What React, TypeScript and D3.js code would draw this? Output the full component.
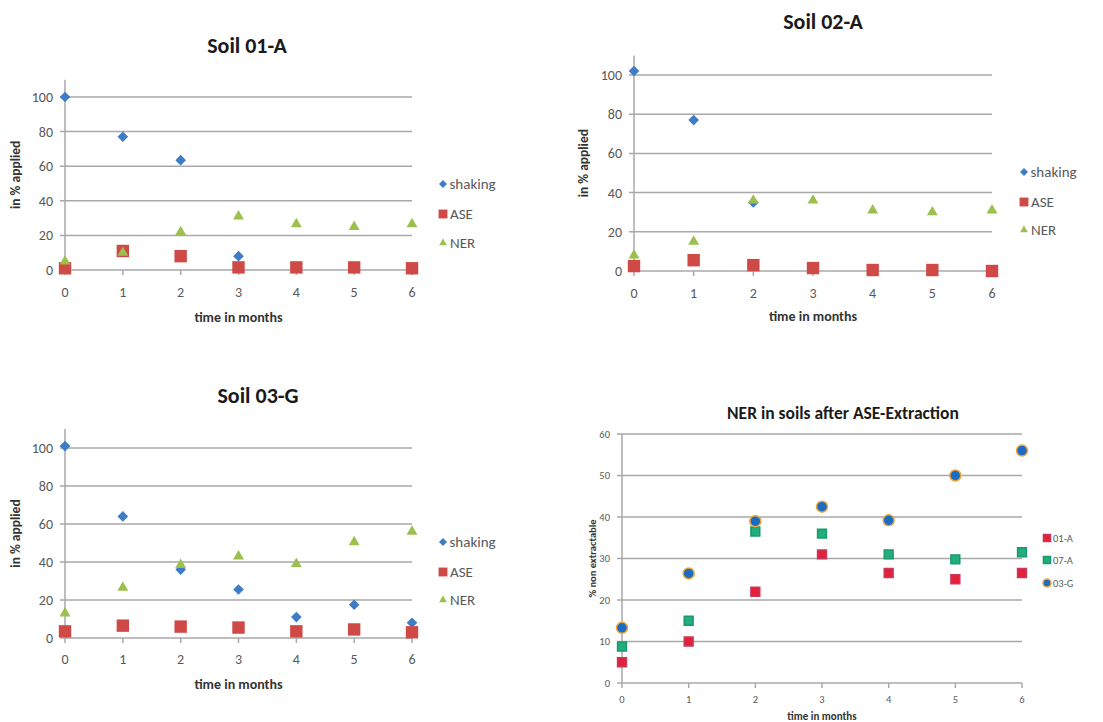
import React, { useEffect, useRef } from 'react';
import * as d3 from 'd3';

const months = [0, 1, 2, 3, 4, 5, 6];

// Soil 01-A
const shaking01A = [100, 77, 63.5, 8, null, null, null];
const ase01A = [1, 11, 8, 1.5, 1.5, 1.5, 1];
const ner01A = [5, 10, 22, 31, 26.5, 25, 26.5];

// Soil 02-A
const shaking02A = [102, 77, 35, 1.5, null, null, null];
const ase02A = [2.5, 5.5, 3, 1.5, 0.5, 0.5, 0];
const ner02A = [8, 15, 36, 36, 31, 30, 31];

// Soil 03-G
const shaking03G = [101, 64, 36, 25.5, 11, 17.5, 8];
const ase03G = [3.5, 6.5, 6, 5.5, 3.5, 4.5, 3];
const ner03G = [13, 26.5, 38.5, 43, 39, 50.5, 56];

// NER after ASE-Extraction
const nerAse01A = [5, 10, 22, 31, 26.5, 25, 26.5];
const nerAse07A = [8.8, 15, 36.5, 36, 31, 29.8, 31.5];
const nerAse03G = [13.3, 26.4, 39, 42.5, 39.2, 50, 56];

const soilTicks = [0, 20, 40, 60, 80, 100];
const nerTicks = [0, 10, 20, 30, 40, 50, 60];

const BLUE = '#3f7cc6';
const RED = '#cf4a47';
const GREEN = '#9bc04e';

type Series = { name: string; values: (number | null)[]; shape: string; fill: string; stroke?: string; size: number; legendSize: number };

type PanelCfg = {
  title: string;
  titleSize: number;
  titleX: number;
  titleY: number;
  x0: number; x1: number; y0: number; y1: number;
  yMax: number; yTop: number;
  ticks: number[];
  tickSize: number; xLabelGap: number;
  yTitle: string; yTitleX: number; yTitleSize: number;
  xTitleY: number; xTitleSize: number;
  legendX: number; legendY: number[]; legendSize: number;
  series: Series[];
};

const soilSeries = (s: (number | null)[], a: (number | null)[], n: (number | null)[]): Series[] => [
  { name: 'shaking', values: s, shape: 'diamond', fill: BLUE, size: 12, legendSize: 9 },
  { name: 'ASE', values: a, shape: 'square', fill: RED, size: 14, legendSize: 10 },
  { name: 'NER', values: n, shape: 'triangle', fill: GREEN, size: 14, legendSize: 10 },
];

const panels: PanelCfg[] = [
  {
    title: 'Soil 01-A', titleSize: 22, titleX: 247, titleY: 53,
    x0: 65, x1: 412, y0: 270, y1: 97, yMax: 100, yTop: 110, ticks: soilTicks, tickSize: 14, xLabelGap: 27,
    yTitle: 'in % applied', yTitleX: 20, yTitleSize: 13.5, xTitleY: 322, xTitleSize: 14,
    legendX: 443, legendY: [184, 214, 243], legendSize: 15,
    series: soilSeries(shaking01A, ase01A, ner01A),
  },
  {
    title: 'Soil 02-A', titleSize: 22, titleX: 823, titleY: 29,
    x0: 634, x1: 992, y0: 271, y1: 75, yMax: 100, yTop: 110, ticks: soilTicks, tickSize: 14, xLabelGap: 27,
    yTitle: 'in % applied', yTitleX: 588, yTitleSize: 13.5, xTitleY: 321, xTitleSize: 14,
    legendX: 1024, legendY: [172, 202, 230], legendSize: 15,
    series: soilSeries(shaking02A, ase02A, ner02A),
  },
  {
    title: 'Soil 03-G', titleSize: 22, titleX: 258, titleY: 403,
    x0: 65, x1: 412, y0: 638, y1: 448, yMax: 100, yTop: 110, ticks: soilTicks, tickSize: 14, xLabelGap: 26,
    yTitle: 'in % applied', yTitleX: 20, yTitleSize: 13.5, xTitleY: 689, xTitleSize: 14,
    legendX: 443, legendY: [542, 572, 600], legendSize: 15,
    series: soilSeries(shaking03G, ase03G, ner03G),
  },
  {
    title: 'NER in soils after ASE-Extraction', titleSize: 17.5, titleX: 843, titleY: 419,
    x0: 622, x1: 1022, y0: 683, y1: 434, yMax: 60, yTop: 60, ticks: nerTicks, tickSize: 10.5, xLabelGap: 20,
    yTitle: '% non extractable', yTitleX: 596, yTitleSize: 10.5, xTitleY: 720, xTitleSize: 11,
    legendX: 1047, legendY: [538, 560, 583], legendSize: 10.5,
    series: [
      { name: '01-A', values: nerAse01A, shape: 'square', fill: '#e3213b', stroke: '#c8385a', size: 10, legendSize: 8 },
      { name: '07-A', values: nerAse07A, shape: 'square', fill: '#1fae7c', stroke: '#1a9a6c', size: 10, legendSize: 8 },
      { name: '03-G', values: nerAse03G, shape: 'circle', fill: '#1c6cc4', stroke: '#f0a43c', size: 11, legendSize: 8 },
    ],
  },
];

const symbolOf = (shape: string) =>
  shape === 'diamond' ? d3.symbolDiamond2 :
  shape === 'square' ? d3.symbolSquare2 :
  shape === 'triangle' ? d3.symbolTriangle2 : d3.symbolCircle;

function drawMarker(g: d3.Selection<SVGGElement, unknown, null, undefined>, s: Series, x: number, y: number, sz: number) {
  const area = s.shape === 'circle' ? (Math.PI * sz * sz) / 4
    : s.shape === 'triangle' ? sz * sz * 0.433
    : s.shape === 'diamond' ? sz * sz * 0.5
    : sz * sz;
  g.append('path')
    .attr('d', d3.symbol(symbolOf(s.shape), area)())
    .attr('transform', `translate(${x},${y})`)
    .attr('fill', s.fill)
    .attr('stroke', s.stroke ?? 'none')
    .attr('stroke-width', s.stroke ? 1.5 : 0);
}

export default function App() {
  const ref = useRef<SVGSVGElement | null>(null);

  useEffect(() => {
    const svg = d3.select(ref.current);
    svg.selectAll('*').remove();
    const font = "Carlito, 'Open Sans', 'Liberation Sans', sans-serif";

    panels.forEach((p) => {
      const g = svg.append('g');
      const x = d3.scaleLinear().domain([0, 6]).range([p.x0, p.x1]);
      const y = d3.scaleLinear().domain([0, p.yMax]).range([p.y0, p.y1]);

      // gridlines
      g.selectAll('line.grid')
        .data(p.ticks)
        .enter().append('line')
        .attr('x1', p.x0 - 5).attr('x2', p.x1)
        .attr('y1', (d) => y(d)).attr('y2', (d) => y(d))
        .attr('stroke', '#a8a8a8').attr('stroke-width', 1.5);

      // y axis line
      g.append('line')
        .attr('x1', p.x0).attr('x2', p.x0)
        .attr('y1', y(p.yTop)).attr('y2', p.y0)
        .attr('stroke', '#a8a8a8').attr('stroke-width', 1.5);

      // x ticks
      g.selectAll('line.xt')
        .data(months)
        .enter().append('line')
        .attr('x1', (d) => x(d)).attr('x2', (d) => x(d))
        .attr('y1', p.y0).attr('y2', p.y0 + 5)
        .attr('stroke', '#a8a8a8').attr('stroke-width', 1.5);

      // y tick labels
      g.selectAll('text.yl')
        .data(p.ticks)
        .enter().append('text')
        .attr('x', p.x0 - 12).attr('y', (d) => y(d))
        .attr('dy', '0.35em')
        .attr('text-anchor', 'end')
        .attr('font-family', font).attr('font-size', p.tickSize)
        .attr('fill', '#595959')
        .text((d) => d);

      // x tick labels
      g.selectAll('text.xl')
        .data(months)
        .enter().append('text')
        .attr('x', (d) => x(d)).attr('y', p.y0 + p.xLabelGap)
        .attr('text-anchor', 'middle')
        .attr('font-family', font).attr('font-size', p.tickSize)
        .attr('fill', '#595959')
        .text((d) => d);

      // titles
      g.append('text')
        .attr('x', p.titleX).attr('y', p.titleY)
        .attr('text-anchor', 'middle')
        .attr('font-family', font).attr('font-weight', 'bold').attr('font-size', p.titleSize)
        .attr('fill', '#1a1a1a')
        .text(p.title);

      g.append('text')
        .attr('x', (p.x0 + p.x1) / 2).attr('y', p.xTitleY)
        .attr('text-anchor', 'middle')
        .attr('font-family', font).attr('font-weight', 'bold').attr('font-size', p.xTitleSize)
        .attr('fill', '#333')
        .text('time in months');

      g.append('text')
        .attr('transform', `translate(${p.yTitleX},${(y(p.yTop) + p.y0) / 2}) rotate(-90)`)
        .attr('text-anchor', 'middle')
        .attr('font-family', font).attr('font-weight', 'bold').attr('font-size', p.yTitleSize)
        .attr('fill', '#333')
        .text(p.yTitle);

      // points
      p.series.forEach((s) => {
        s.values.forEach((v, i) => {
          if (v === null) return;
          drawMarker(g, s, x(months[i]), y(v), s.size);
        });
      });

      // legend
      p.series.forEach((s, i) => {
        const ly = p.legendY[i];
        drawMarker(g, s, p.legendX, ly, s.legendSize);
        g.append('text')
          .attr('x', p.legendX + s.legendSize / 2 + 2).attr('y', ly)
          .attr('dy', '0.35em')
          .attr('font-family', font).attr('font-size', p.legendSize)
          .attr('fill', '#595959')
          .text(s.name);
      });
    });
  }, []);

  return (
    <svg
      ref={ref}
      width={1103}
      height={722}
      style={{ display: 'block', position: 'absolute', left: 0, top: 0 }}
    />
  );
}
